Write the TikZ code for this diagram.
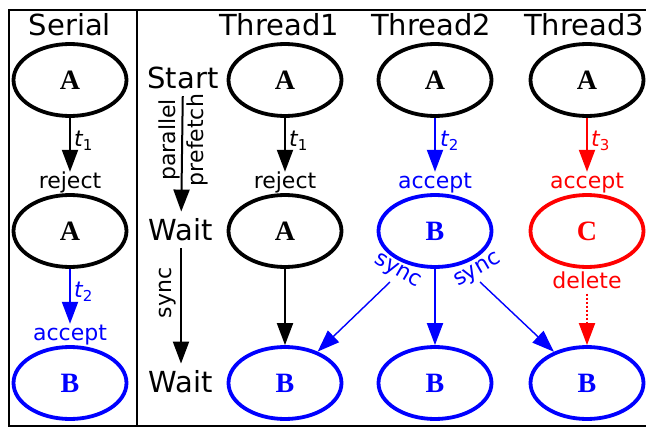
\documentclass[tikz,border=0pt]{standalone}
\usepackage{fontspec}
\newfontfamily\dejavu{DejaVu Sans}
\newfontfamily\statefont{Liberation Serif}
\usetikzlibrary{shapes.geometric,arrows.meta}

% oblique t with a lowered index
\newcommand\tlab[1]{{\itshape t}\raisebox{-4pt}{\fontsize{15}{15}\selectfont #1}}

\begin{document}
\begin{tikzpicture}[x=1pt,y=-1pt,
  state/.style={ellipse,draw,line width=3.8pt,minimum width=113pt,minimum height=72pt,
    inner sep=0pt,font=\statefont\bfseries\fontsize{28}{28}\selectfont},
  head/.style={font=\dejavu\fontsize{29}{29}\selectfont,inner sep=0pt},
  phase/.style={font=\dejavu\fontsize{29}{29}\selectfont,inner sep=7pt},
  lbl/.style={font=\dejavu\fontsize{22}{22}\selectfont,inner sep=0pt,text height=16pt,text depth=5pt},
  synclbl/.style={font=\dejavu\fontsize{22}{22}\selectfont,inner sep=0pt,blue},
  tl/.style={font=\dejavu\fontsize{22}{22}\selectfont,inner sep=0pt,anchor=west},
  side/.style={font=\dejavu\fontsize{22}{28}\selectfont,inner sep=0pt,align=center,rotate=90},
  arr/.style={line width=2pt,-{Triangle[length=22pt,width=16pt]}},
  thinarr/.style={line width=1.4pt,-{Triangle[length=22pt,width=16pt]}},
]
\useasboundingbox (0,0) rectangle (646,428);

% frame and column divider
\draw[line width=2pt] (646,10) -- (9,10) -- (9,426) -- (646,426);
\draw[line width=2pt] (137,10) -- (137,426);

% column headings
\node[head] (hS) at (70,25) {Serial};
\node[head] (h1) at (279,25) {Thread1};
\node[head] (h2) at (431,25) {Thread2};
\node[head] (h3) at (584,25) {Thread3};

% phase labels
\node[phase] (start) at (183,78) {Start};
\node[phase] (wait1) at (181,230) {Wait};
\node[phase] (wait2) at (181,382) {Wait};
\draw[arr] (start) -- (wait1);
\draw[arr] (wait1) -- (wait2);
\node[side] (pp) at (183,140) {parallel\\prefetch};
\node[side] (sy) at (168,293) {sync};

% serial column
\node[state] (sA1) at (70,80) {A};
\node[state] (sA2) at (70,231) {A};
\node[state,blue] (sB) at (70,383) {B};
\node[lbl] (sRej) at (70,182.5) {reject};
\node[lbl,blue] (sAcc) at (70,334.5) {accept};
\draw[arr] (sA1) -- (sRej);
\draw[arr,blue] (sA2) -- (sAcc);
\node[tl] (st1) at (74,141) {\tlab{1}};
\node[tl,blue] (st2) at (74,292) {\tlab{2}};

% thread 1
\node[state] (aA1) at (285,80) {A};
\node[state] (aA2) at (285,231) {A};
\node[state,blue] (aB) at (285,383) {B};
\node[lbl] (aRej) at (285,182.5) {reject};
\draw[arr] (aA1) -- (aRej);
\draw[arr] (aA2) -- (aB);
\node[tl] (at1) at (289,141) {\tlab{1}};

% thread 2
\node[state] (bA) at (435,80) {A};
\node[state,blue] (bB1) at (435,231) {B};
\node[state,blue] (bB2) at (435,383) {B};
\node[lbl,blue] (bAcc) at (435,182.5) {accept};
\draw[arr,blue] (bA) -- (bAcc);
\draw[arr,blue] (bB1) -- (bB2);
\node[tl,blue] (bt2) at (440,141) {\tlab{2}};

% thread 3
\node[state] (cA) at (587,80) {A};
\node[state,red] (cC) at (587,231) {C};
\node[state,blue] (cB) at (587,383) {B};
\node[lbl,red] (cAcc) at (587,182.5) {accept};
\node[lbl,red] (cDel) at (587,283) {delete};
\draw[arr,red] (cA) -- (cAcc);
\draw[arr,red,dotted] (cDel) -- (cB);
\node[tl,red] (ct3) at (591,141) {\tlab{3}};

% synchronisation of the accepted B
\node[synclbl,rotate=-30] (syL) at (397,272) {sync};
\node[synclbl,rotate=30] (syR) at (478,271) {sync};
\coordinate (fromL) at (390,282);
\coordinate (fromR) at (480,282);
\draw[thinarr,blue] (fromL) -- (aB);
\draw[thinarr,blue] (fromR) -- (cB);
\end{tikzpicture}
\end{document}
